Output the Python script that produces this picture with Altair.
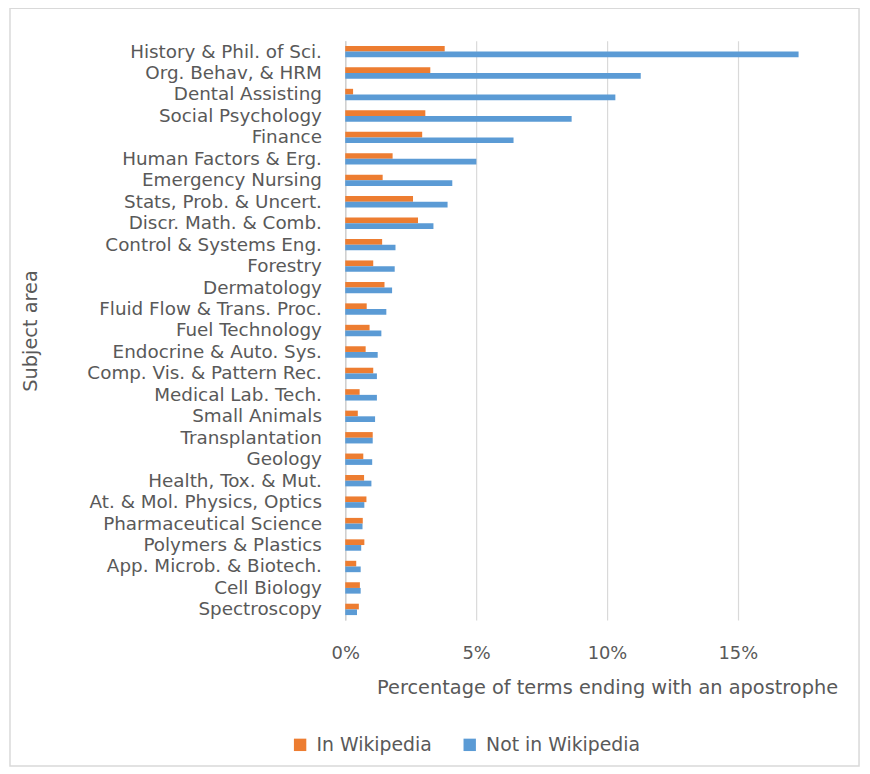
import altair as alt
import pandas as pd

categories = ["History & Phil. of Sci.", "Org. Behav, & HRM", "Dental Assisting", "Social Psychology",
              "Finance", "Human Factors & Erg.", "Emergency Nursing", "Stats, Prob. & Uncert.",
              "Discr. Math. & Comb.", "Control & Systems Eng.", "Forestry", "Dermatology",
              "Fluid Flow & Trans. Proc.", "Fuel Technology", "Endocrine & Auto. Sys.",
              "Comp. Vis. & Pattern Rec.", "Medical Lab. Tech.", "Small Animals", "Transplantation",
              "Geology", "Health, Tox. & Mut.", "At. & Mol. Physics, Optics", "Pharmaceutical Science",
              "Polymers & Plastics", "App. Microb. & Biotech.", "Cell Biology", "Spectroscopy"]

in_wikipedia = [3.80, 3.25, 0.30, 3.06, 2.94, 1.81, 1.43, 2.59, 2.78, 1.41, 1.07, 1.50, 0.82, 0.93,
                0.78, 1.07, 0.55, 0.48, 1.05, 0.69, 0.72, 0.81, 0.67, 0.73, 0.42, 0.56, 0.52]
not_in_wikipedia = [17.32, 11.29, 10.32, 8.65, 6.43, 5.01, 4.09, 3.91, 3.37, 1.92, 1.89, 1.79, 1.57,
                    1.38, 1.24, 1.21, 1.21, 1.14, 1.05, 1.03, 1.00, 0.73, 0.66, 0.61, 0.59, 0.59, 0.45]

series = ["In Wikipedia", "Not in Wikipedia"]
colors = ["#ED7D31", "#5B9BD5"]
x_ticks = [0, 5, 10, 15]

rows = []
for c, a, b in zip(categories, in_wikipedia, not_in_wikipedia):
    rows.append({"Subject": c, "Series": series[0], "Value": a})
    rows.append({"Subject": c, "Series": series[1], "Value": b})
df = pd.DataFrame(rows)

FONT = "DejaVu Sans"
TXT = "#595959"

bars = alt.Chart(df).mark_bar().encode(
    y=alt.Y("Subject:N", sort=categories,
            scale=alt.Scale(paddingInner=0.47, paddingOuter=0.235),
            axis=alt.Axis(title="Subject area", ticks=False, labelPadding=24,
                          domainColor="#d0d0d0", domainWidth=1.5,
                          labelFontSize=18.5, labelColor=TXT, labelFont=FONT,
                          titleFontSize=19.5, titleColor=TXT, titleFont=FONT, titleFontWeight="normal",
                          titleX=-317, titleY=292, titleAngle=-90, titleAlign="center",
                          titleBaseline="middle", labelLimit=400)),
    x=alt.X("Value:Q", scale=alt.Scale(domain=[0, 18], nice=False),
            axis=alt.Axis(title="Percentage of terms ending with an apostrophe", values=x_ticks,
                          labelExpr="datum.value + '%'", ticks=False, domain=False, labelFlush=False,
                          grid=True, gridColor="#d9d9d9", gridWidth=1.2,
                          labelPadding=25, labelFontSize=18, labelColor=TXT, labelFont=FONT,
                          titleFontSize=19.5, titleColor=TXT, titleFont=FONT, titleFontWeight="normal",
                          titleX=264, titleY=68, titleAlign="center", titleBaseline="middle")),
    yOffset=alt.YOffset("Series:N", sort=series),
    color=alt.Color("Series:N", sort=series,
                    scale=alt.Scale(domain=series, range=colors),
                    legend=alt.Legend(title=None, orient="none", direction="horizontal",
                                      legendX=-55, legendY=700, symbolType="square",
                                      symbolSize=156, symbolStrokeWidth=0,
                                      labelFontSize=19, labelColor=TXT, labelFont=FONT,
                                      labelOffset=7, columnPadding=28)),
)

border = alt.Chart(alt.Data(values=[{}])).mark_rect(
    fillOpacity=0, stroke="#d9d9d9", strokeWidth=1.5
).encode(
    x=alt.value(-338), x2=alt.value(518), y=alt.value(-33), y2=alt.value(731)
)

chart = alt.layer(border, bars).properties(
    width=475, height=584,
    autosize=alt.AutoSizeParams(type="none"),
    padding={"left": 340, "top": 30, "right": 46, "bottom": 152},
).configure_view(stroke=None)

chart.save("out.html", embed_options={"renderer": "svg", "actions": False})
